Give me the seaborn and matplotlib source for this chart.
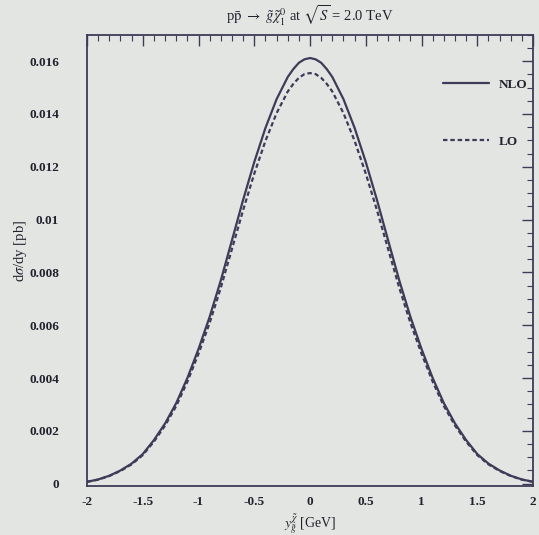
import matplotlib
matplotlib.use("Agg")
import matplotlib.pyplot as plt
import seaborn as sns
import pandas as pd
from matplotlib.ticker import MultipleLocator, FixedLocator, FixedFormatter

# ---- data ----
y_rap = [-2.0, -1.9, -1.8, -1.7, -1.6, -1.5, -1.4, -1.3, -1.2, -1.1, -1.0,
         -0.9, -0.8, -0.7, -0.6, -0.5, -0.4, -0.3, -0.2, -0.15, -0.1, -0.05, 0.0,
         0.05, 0.1, 0.15, 0.2, 0.3, 0.4, 0.5, 0.6, 0.7, 0.8, 0.9, 1.0,
         1.1, 1.2, 1.3, 1.4, 1.5, 1.6, 1.7, 1.8, 1.9, 2.0]
nlo = [0.00007, 0.00016, 0.00030, 0.00050, 0.00076, 0.00112, 0.00165, 0.00228, 0.00305, 0.00400, 0.00510,
       0.00632, 0.00770, 0.00922, 0.01075, 0.01218, 0.01347, 0.01456, 0.01540, 0.01570, 0.01594, 0.01607, 0.01612,
       0.01607, 0.01594, 0.01570, 0.01540, 0.01456, 0.01347, 0.01218, 0.01075, 0.00922, 0.00770, 0.00632, 0.00510,
       0.00400, 0.00305, 0.00228, 0.00165, 0.00112, 0.00076, 0.00050, 0.00030, 0.00016, 0.00007]
lo = [0.00007, 0.00015, 0.00029, 0.00048, 0.00073, 0.00108, 0.00159, 0.00220, 0.00294, 0.00386, 0.00492,
      0.00609, 0.00742, 0.00889, 0.01036, 0.01174, 0.01298, 0.01403, 0.01485, 0.01514, 0.01537, 0.01551, 0.01555,
      0.01551, 0.01537, 0.01514, 0.01485, 0.01403, 0.01298, 0.01174, 0.01036, 0.00889, 0.00742, 0.00609, 0.00492,
      0.00386, 0.00294, 0.00220, 0.00159, 0.00108, 0.00073, 0.00048, 0.00029, 0.00015, 0.00007]
series_names = ["NLO", "LO"]
x_ticks = [-2, -1.5, -1, -0.5, 0, 0.5, 1, 1.5, 2]
x_ticklabels = ["-2", "-1.5", "-1", "-0.5", "0", "0.5", "1", "1.5", "2"]
y_ticks = [0, 0.002, 0.004, 0.006, 0.008, 0.01, 0.012, 0.014, 0.016]
y_ticklabels = ["0", "0.002", "0.004", "0.006", "0.008", "0.01", "0.012", "0.014", "0.016"]
title = r"p$\bar{\mathrm{p}}$ $\rightarrow$ $\tilde{g}\tilde{\chi}^0_1$ at $\sqrt{S}$ = 2.0 TeV"
xlabel = r"$y_{\tilde{g}}^{\tilde{\chi}}$ [GeV]"
ylabel = r"d$\sigma$/dy [pb]"

df = pd.DataFrame({
    "y": y_rap * 2,
    "xs": nlo + lo,
    "order": [series_names[0]] * len(nlo) + [series_names[1]] * len(lo),
})

sns.set_theme(style="white")
bg = "#e3e5e2"
ink = "#3c3c58"
txt = "#22222e"
plt.rcParams["font.family"] = ["Liberation Serif", "DejaVu Serif"]
plt.rcParams["mathtext.fontset"] = "stix"

fig = plt.figure(figsize=(5.39, 5.35), dpi=100, facecolor=bg)
ax = fig.add_axes([0.1614, 0.092, 0.8276, 0.843])
ax.set_facecolor(bg)

sns.lineplot(data=df, x="y", y="xs", hue="order", style="order",
             palette={"NLO": ink, "LO": ink},
             dashes={"NLO": "", "LO": (2, 1.3)},
             linewidth=1.6, ax=ax, legend=True)

ax.set_xlim(-2, 2)
ax.set_ylim(-0.00008, 0.0170)
ax.xaxis.set_major_locator(FixedLocator(x_ticks))
ax.xaxis.set_major_formatter(FixedFormatter(x_ticklabels))
ax.yaxis.set_major_locator(FixedLocator(y_ticks))
ax.yaxis.set_major_formatter(FixedFormatter(y_ticklabels))
ax.xaxis.set_minor_locator(MultipleLocator(0.1))
ax.yaxis.set_minor_locator(MultipleLocator(0.0005))
ax.tick_params(which="both", direction="in", top=True, right=True, colors=ink,
               labelcolor=txt, labelsize=9.5)
ax.tick_params(which="major", length=8, width=1.0)
ax.tick_params(which="minor", length=4, width=0.8)
ax.tick_params(axis="x", pad=7)
ax.tick_params(axis="y", pad=20)
for lbl in ax.get_xticklabels() + ax.get_yticklabels():
    lbl.set_fontweight("bold")
for sp in ax.spines.values():
    sp.set_color(ink)
    sp.set_linewidth(1.3)

ax.set_xlabel(xlabel, fontsize=10, color=txt)
ax.xaxis.set_label_coords(0.5, -0.058)
ax.set_ylabel(ylabel, fontsize=10.5, color=txt)
ax.yaxis.set_label_coords(-0.13, 0.52)
ax.set_title(title, fontsize=10.5, color=txt, pad=9)

leg = ax.legend(loc="upper right", bbox_to_anchor=(1.0, 0.915), frameon=False,
                fontsize=9.5, handlelength=3.5, handletextpad=0.75,
                labelspacing=3.4, borderaxespad=0.0)
for t in leg.get_texts():
    t.set_color(txt)
    t.set_fontweight("bold")

fig.savefig("out.png", dpi=100, facecolor=bg)
